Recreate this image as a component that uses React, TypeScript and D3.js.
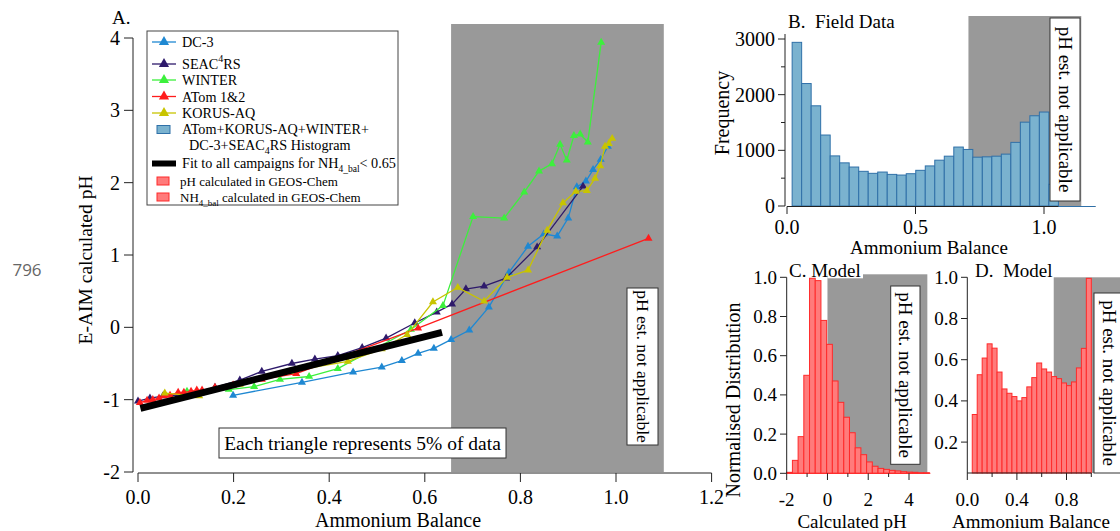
import React from "react";
import * as d3 from "d3";

// ---------- Panel A data (Ammonium balance vs E-AIM pH) ----------
const dc3X = [0.199, 0.343, 0.45, 0.51, 0.552, 0.586, 0.619, 0.655, 0.693, 0.734, 0.776, 0.816, 0.849, 0.877, 0.9, 0.918, 0.937, 0.952, 0.968, 0.983];
const dc3Y = [-0.94, -0.76, -0.62, -0.55, -0.46, -0.36, -0.29, -0.17, -0.04, 0.28, 0.76, 1.12, 1.29, 1.26, 1.51, 1.94, 2.02, 2.18, 2.32, 2.5];

const seacX = [0.0, 0.025, 0.052, 0.107, 0.161, 0.213, 0.259, 0.322, 0.37, 0.418, 0.469, 0.519, 0.579, 0.625, 0.657, 0.686, 0.724, 0.77, 0.835, 0.931];
const seacY = [-1.02, -0.98, -0.95, -0.93, -0.83, -0.73, -0.61, -0.5, -0.44, -0.39, -0.28, -0.15, 0.06, 0.21, 0.32, 0.53, 0.57, 0.68, 1.11, 1.95];

const winterX = [0.1025, 0.19, 0.243, 0.297, 0.358, 0.418, 0.571, 0.638, 0.701, 0.766, 0.808, 0.839, 0.866, 0.883, 0.897, 0.912, 0.925, 0.941, 0.969];
const winterY = [-0.885, -0.86, -0.82, -0.72, -0.68, -0.57, -0.03, 0.3, 1.53, 1.51, 1.87, 2.16, 2.26, 2.53, 2.31, 2.65, 2.67, 2.56, 3.94];

const atomX = [0.004, 0.019, 0.031, 0.044, 0.054, 0.067, 0.084, 0.096, 0.111, 0.123, 0.134, 0.161, 0.199, 0.259, 0.331, 0.586, 1.068];
const atomY = [-1.04, -1.01, -1.0, -0.98, -0.95, -0.94, -0.9, -0.9, -0.885, -0.87, -0.87, -0.83, -0.8, -0.72, -0.64, -0.01, 1.23];

const korusX = [0.056, 0.128, 0.213, 0.318, 0.439, 0.51, 0.563, 0.617, 0.669, 0.724, 0.772, 0.816, 0.856, 0.889, 0.916, 0.939, 0.956, 0.967, 0.977, 0.985, 0.992];
const korusY = [-0.91, -0.95, -0.79, -0.61, -0.47, -0.3, -0.1, 0.35, 0.55, 0.36, 0.69, 0.79, 1.34, 1.72, 1.88, 1.89, 2.06, 2.23, 2.5, 2.54, 2.61];

const fitX = [0.005, 0.636];
const fitY = [-1.12, -0.07];

const aXTicks = [0, 0.2, 0.4, 0.6, 0.8, 1.0, 1.2];
const aYTicks = [-2, -1, 0, 1, 2, 3, 4];
const notApplicableA = [0.655, 1.1];

// ---------- Panel B data (field histogram) ----------
const bBinStart = 0.02;
const bBinWidth = 0.037;
const bCounts = [2940, 2200, 1800, 1275, 900, 775, 700, 623, 587, 610, 568, 556, 580, 641, 720, 823, 895, 1059, 1016, 877, 883, 895, 932, 1143, 1506, 1621, 1688, 390];
const bXTicks = [0, 0.5, 1.0];
const bYTicks = [0, 1000, 2000, 3000];
const bYMinor = [500, 1500, 2500];

// ---------- Panel C data (model pH histogram) ----------
const cBinStart = -2;
const cBinWidth = 0.28;
const cValues = [0.005, 0.066, 0.187, 0.5, 0.995, 0.983, 0.78, 0.658, 0.471, 0.362, 0.286, 0.207, 0.13, 0.095, 0.058, 0.036, 0.025, 0.02, 0.015, 0.012, 0.008, 0.006, 0.005, 0.003, 0.003];
const cXTicks = [-2, 0, 2, 4];
const cXMinor = [-1, 1, 3];
const cYTicks = [0, 0.2, 0.4, 0.6, 0.8, 1.0];

// ---------- Panel D data (model ammonium balance histogram) ----------
const dBinStart = 0.04;
const dBinWidth = 0.04;
const dValues = [0.334, 0.527, 0.608, 0.677, 0.656, 0.54, 0.458, 0.437, 0.421, 0.4, 0.416, 0.468, 0.513, 0.584, 0.555, 0.54, 0.518, 0.508, 0.487, 0.474, 0.492, 0.56, 0.655, 0.995];
const dXTicks = [0, 0.4, 0.8];
const dXMinor = [0.2, 0.6, 1.0];
const dYTicks = [0.2, 0.4, 0.6, 0.8, 1.0];

const serif = "'Liberation Serif', 'Times New Roman', Times, serif";
const GREY = "#999999";
const AX = "#222";

function VBox({ x, y, w, h, fs }: { x: number; y: number; w: number; h: number; fs: number }) {
  return (
    <g>
      <rect x={x} y={y} width={w} height={h} fill="#fff" stroke="#333" strokeWidth={1} />
      <text
        transform={`translate(${x + w / 2},${y + h / 2}) rotate(90)`}
        textAnchor="middle"
        dominantBaseline="central"
        fontSize={fs}
        fontFamily={serif}
        fill="#000"
      >
        pH est. not applicable
      </text>
    </g>
  );
}

export default function App() {
  // Panel A scales
  const xA = d3.scaleLinear().domain([0, 1.2]).range([138, 711.6]);
  const yA = d3.scaleLinear().domain([-2, 4]).range([472, 38]);
  const lineA = d3
    .line<[number, number]>()
    .x((d) => xA(d[0]))
    .y((d) => yA(d[1]));
  const tri = d3.symbol().type(d3.symbolTriangle).size(28)() as string;
  const triLeg = d3.symbol().type(d3.symbolTriangle).size(45)() as string;

  const series = [
    { name: "DC-3", xs: dc3X, ys: dc3Y, color: "#1f88d2" },
    { name: "SEAC4RS", xs: seacX, ys: seacY, color: "#2e1a6b" },
    { name: "WINTER", xs: winterX, ys: winterY, color: "#3cf03c" },
    { name: "ATom 1&2", xs: atomX, ys: atomY, color: "#ff1c1c" },
    { name: "KORUS-AQ", xs: korusX, ys: korusY, color: "#c8c400" },
  ];

  // Panel B scales
  const xB = d3.scaleLinear().domain([0, 1]).range([787, 1044]);
  const yB = d3.scaleLinear().domain([0, 3000]).range([206, 39]);

  // Panel C scales
  const xC = d3.scaleLinear().domain([-2, 4]).range([786.7, 909]);
  const yC = d3.scaleLinear().domain([0, 1]).range([473.3, 277.3]);

  // Panel D scales
  const xD = d3.scaleLinear().domain([0, 1]).range([967.3, 1091.3]);
  const yD = d3.scaleLinear().domain([0.05, 1]).range([473, 277.3]);

  const legY = [42, 64, 80, 96.5, 113];

  return (
    <div style={{ position: "absolute", left: 0, top: 0 }}>
      <svg width={1120} height={531} style={{ display: "block", background: "#fff" }} fontFamily={serif}>
        {/* line number */}
        <text x={27} y={276} textAnchor="middle" fontSize={17} fontFamily="'Open Sans', 'DejaVu Sans', sans-serif" fill="#666">
          796
        </text>

        {/* ================= PANEL A ================= */}
        <rect
          x={xA(notApplicableA[0])}
          y={24}
          width={xA(notApplicableA[1]) - xA(notApplicableA[0])}
          height={472 - 24}
          fill={GREY}
        />
        <line x1={133} x2={133} y1={yA(4)} y2={yA(-2)} stroke={AX} strokeWidth={1} />
        {aYTicks.map((t) => (
          <g key={"ay" + t}>
            <line x1={124} x2={133} y1={yA(t)} y2={yA(t)} stroke={AX} />
            <text x={120} y={yA(t)} textAnchor="end" dominantBaseline="central" fontSize={20}>
              {String(t)}
            </text>
          </g>
        ))}
        <line x1={xA(0)} x2={xA(1.2)} y1={473} y2={473} stroke={AX} />
        {aXTicks.map((t) => (
          <g key={"ax" + t}>
            <line x1={xA(t)} x2={xA(t)} y1={473} y2={482} stroke={AX} />
            <text x={xA(t)} y={504} textAnchor="middle" fontSize={20}>
              {t.toFixed(1)}
            </text>
          </g>
        ))}
        <text x={398} y={527} textAnchor="middle" fontSize={20}>
          Ammonium Balance
        </text>
        <text transform={`translate(92,260) rotate(-90)`} textAnchor="middle" fontSize={19.5}>
          E-AIM calculated pH
        </text>
        <text x={112} y={24} fontSize={19}>
          A.
        </text>

        {/* series */}
        {series.map((s) => {
          const pts = s.xs.map((x, k) => [x, s.ys[k]] as [number, number]);
          return (
            <g key={s.name}>
              <path d={lineA(pts) as string} fill="none" stroke={s.color} strokeWidth={1.3} />
              {pts.map((p, k) => (
                <path key={k} d={tri} transform={`translate(${xA(p[0])},${yA(p[1])})`} fill={s.color} />
              ))}
            </g>
          );
        })}
        {/* fit line */}
        <line
          x1={xA(fitX[0])}
          y1={yA(fitY[0])}
          x2={xA(fitX[1])}
          y2={yA(fitY[1])}
          stroke="#000"
          strokeWidth={7}
        />

        <VBox x={627} y={288} w={31} h={157} fs={17.5} />

        <rect x={219} y={428} width={287} height={30} fill="#fff" stroke="#333" strokeWidth={1} />
        <text x={362.5} y={443} textAnchor="middle" dominantBaseline="central" fontSize={19.5}>
          Each triangle represents 5% of data
        </text>

        {/* legend */}
        <rect x={147} y={31} width={251} height={174} fill="#fff" stroke="#444" strokeWidth={1} />
        {series.map((s, i) => (
          <g key={"leg" + s.name}>
            <line x1={152} x2={176} y1={legY[i]} y2={legY[i]} stroke={s.color} strokeWidth={1.3} />
            <path d={triLeg} transform={`translate(164,${legY[i]})`} fill={s.color} />
          </g>
        ))}
        <g fontSize={14.2}>
          <text x={182} y={legY[0] + 5}>DC-3</text>
          <text x={182} y={legY[1] + 5}>
            SEAC
            <tspan dy={-7} fontSize={10}>4</tspan>
            <tspan dy={7}>RS</tspan>
          </text>
          <text x={182} y={legY[2] + 5}>WINTER</text>
          <text x={182} y={legY[3] + 5}>ATom 1&amp;2</text>
          <text x={182} y={legY[4] + 5}>KORUS-AQ</text>
          <rect x={157} y={125.5} width={13} height={8} fill="#7ab2cf" stroke="#2f70a8" strokeWidth={1} />
          <text x={182} y={134}>ATom+KORUS-AQ+WINTER+</text>
          <text x={189} y={150}>
            DC-3+SEAC
            <tspan dy={4} fontSize={10}>4</tspan>
            <tspan dy={-4}>RS Histogram</tspan>
          </text>
          <rect x={152} y={160.5} width={24} height={6} fill="#000" />
          <text x={182} y={168}>
            Fit to all campaigns for NH
            <tspan dy={4} fontSize={9.5}>4_bal</tspan>
            <tspan dy={-4}>&lt; 0.65</tspan>
          </text>
        </g>
        <g fontSize={13}>
          <rect x={157} y={177} width={12} height={8} fill="#ff7b7b" stroke="#ff2a2a" strokeWidth={1} />
          <text x={180} y={185.5}>pH calculated in GEOS-Chem</text>
          <rect x={157} y={193} width={12} height={8} fill="#ff7b7b" stroke="#ff2a2a" strokeWidth={1} />
          <text x={180} y={201.5}>
            NH
            <tspan dy={4} fontSize={9}>4_bal</tspan>
            <tspan dy={-4}> calculated in GEOS-Chem</tspan>
          </text>
        </g>

        {/* ================= PANEL B ================= */}
        <rect x={xB(0.706)} y={16} width={xB(1.145) - xB(0.706)} height={206 - 16} fill={GREY} />
        {bCounts.map((c, i) => {
          const x0 = bBinStart + i * bBinWidth;
          return (
            <rect
              key={"b" + i}
              x={xB(x0)}
              y={yB(c)}
              width={xB(x0 + bBinWidth) - xB(x0)}
              height={yB(0) - yB(c)}
              fill="#7ab2cf"
              stroke="#2f70a8"
              strokeWidth={1}
            />
          );
        })}
        <line x1={785} x2={785} y1={34} y2={206} stroke={AX} />
        {bYTicks.map((t) => (
          <g key={"by" + t}>
            <line x1={778} x2={785} y1={yB(t)} y2={yB(t)} stroke={AX} />
            <text x={775} y={yB(t)} textAnchor="end" dominantBaseline="central" fontSize={20}>
              {String(t)}
            </text>
          </g>
        ))}
        {bYMinor.map((t) => (
          <line key={"bym" + t} x1={781} x2={785} y1={yB(t)} y2={yB(t)} stroke={AX} />
        ))}
        <line x1={xB(0)} x2={xB(1.2)} y1={206.5} y2={206.5} stroke={AX} />
        <line x1={xB(1.056)} x2={xB(1.2)} y1={206.5} y2={206.5} stroke="#2f70a8" />
        {bXTicks.map((t) => (
          <g key={"bx" + t}>
            <line x1={xB(t)} x2={xB(t)} y1={206.5} y2={214} stroke={AX} />
            <text x={xB(t)} y={234} textAnchor="middle" fontSize={20}>
              {t.toFixed(1)}
            </text>
          </g>
        ))}
        <text x={929} y={254} textAnchor="middle" fontSize={19}>
          Ammonium Balance
        </text>
        <text transform={`translate(722,113) rotate(-90)`} textAnchor="middle" dominantBaseline="central" fontSize={20}>
          Frequency
        </text>
        <text x={788} y={28} fontSize={19} style={{ whiteSpace: "pre" }}>
          {"B.  Field Data"}
        </text>
        <VBox x={1050} y={18} w={30} h={183} fs={19} />

        {/* ================= PANEL C ================= */}
        <rect x={xC(0)} y={274.3} width={xC(4.9) - xC(0)} height={473.3 - 274.3} fill={GREY} />
        <rect x={xC(0)} y={270} width={863 - xC(0)} height={8.3} fill="#fff" />
        {cValues.map((v, i) => {
          const x0 = cBinStart + i * cBinWidth;
          return (
            <rect
              key={"c" + i}
              x={xC(x0)}
              y={yC(v)}
              width={xC(x0 + cBinWidth) - xC(x0)}
              height={yC(0) - yC(v)}
              fill="#ff7b7b"
              stroke="#ff2a2a"
              strokeWidth={1}
            />
          );
        })}
        <line x1={786.7} x2={786.7} y1={yC(1)} y2={yC(0)} stroke={AX} />
        {cYTicks.map((t) => (
          <g key={"cy" + t}>
            <line x1={780} x2={786.7} y1={yC(t)} y2={yC(t)} stroke={AX} />
            <text x={777} y={yC(t)} textAnchor="end" dominantBaseline="central" fontSize={19}>
              {t.toFixed(1)}
            </text>
          </g>
        ))}
        <line x1={xC(-2)} x2={xC(5.05)} y1={473.3} y2={473.3} stroke="#ff2a2a" />
        {cXTicks.map((t) => (
          <g key={"cx" + t}>
            <line x1={xC(t)} x2={xC(t)} y1={473.3} y2={480} stroke={AX} />
            <text x={xC(t)} y={506} textAnchor="middle" fontSize={19}>
              {String(t)}
            </text>
          </g>
        ))}
        {cXMinor.map((t) => (
          <line key={"cxm" + t} x1={xC(t)} x2={xC(t)} y1={473.3} y2={477} stroke={AX} />
        ))}
        <text x={852} y={528} textAnchor="middle" fontSize={19}>
          Calculated pH
        </text>
        <text transform={`translate(733,400) rotate(-90)`} textAnchor="middle" dominantBaseline="central" fontSize={20}>
          Normalised Distribution
        </text>
        <text x={789} y={277} fontSize={19}>
          C. Model
        </text>
        <VBox x={890.7} y={286} w={29.3} h={178.3} fs={19} />

        {/* ================= PANEL D ================= */}
        <rect x={xD(0.697)} y={277.3} width={1120 - xD(0.697)} height={473 - 277.3} fill={GREY} />
        {dValues.map((v, i) => {
          const x0 = dBinStart + i * dBinWidth;
          return (
            <rect
              key={"d" + i}
              x={xD(x0)}
              y={yD(v)}
              width={xD(x0 + dBinWidth) - xD(x0)}
              height={yD(0.05) - yD(v)}
              fill="#ff7b7b"
              stroke="#ff2a2a"
              strokeWidth={1}
            />
          );
        })}
        <line x1={967.3} x2={967.3} y1={yD(1)} y2={473} stroke={AX} />
        {dYTicks.map((t) => (
          <g key={"dy" + t}>
            <line x1={961} x2={967.3} y1={yD(t)} y2={yD(t)} stroke={AX} />
            <text x={958} y={yD(t)} textAnchor="end" dominantBaseline="central" fontSize={19}>
              {t.toFixed(1)}
            </text>
          </g>
        ))}
        <line x1={xD(0)} x2={xD(1.0)} y1={473} y2={473} stroke={AX} />
        {dXTicks.map((t) => (
          <g key={"dx" + t}>
            <line x1={xD(t)} x2={xD(t)} y1={473} y2={480} stroke={AX} />
            <text x={xD(t)} y={506} textAnchor="middle" fontSize={19}>
              {t.toFixed(1)}
            </text>
          </g>
        ))}
        {dXMinor.map((t) => (
          <line key={"dxm" + t} x1={xD(t)} x2={xD(t)} y1={473} y2={477} stroke={AX} />
        ))}
        <text x={1031} y={528} textAnchor="middle" fontSize={19}>
          Ammonium Balance
        </text>
        <text x={975} y={277} fontSize={19} style={{ whiteSpace: "pre" }}>
          {"D.  Model"}
        </text>
        <VBox x={1094} y={293} w={31} h={180} fs={19} />
      </svg>
    </div>
  );
}
